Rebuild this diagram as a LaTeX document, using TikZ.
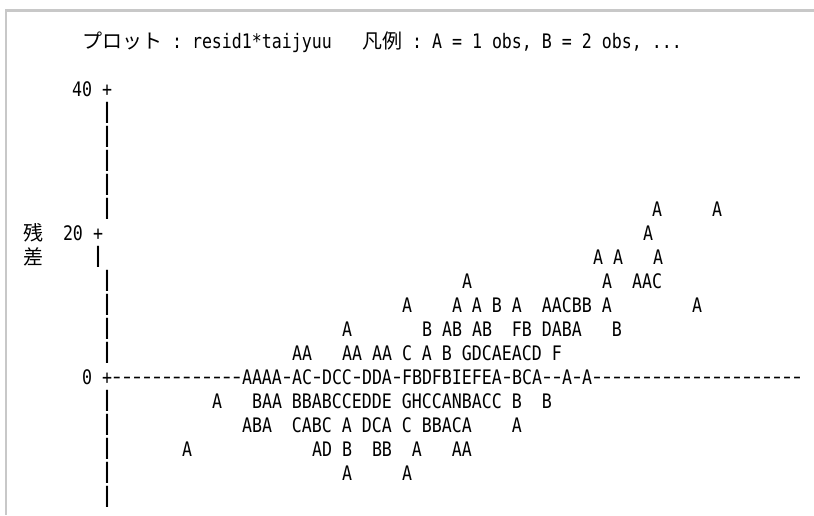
\documentclass[tikz,border=0pt]{standalone}
\usepackage{fontspec}
\usepackage{graphicx}
\newfontfamily\mono[FakeStretch=0.8305]{DejaVu Sans Mono}
\newfontfamily\cjk{Noto Sans CJK JP}
\definecolor{bord}{HTML}{C8C8C8}
\newcount\tkn
\newcommand\g[1]{\kern\dimexpr7.5pt*#1\relax}
\newcommand\hy{\makebox[7.5pt]{\raisebox{0.9pt}{\scalebox{1.4}[1]{-}}}}
\newcommand\vb{\makebox[7.5pt]{\raisebox{1.6pt}{\scalebox{1.5}[1.06]{|}}}}
\tikzset{
  tx/.style={anchor=base west, inner sep=0pt, outer sep=0pt, font={\mono\fontsize{15pt}{15pt}\selectfont}},
  jp/.style={anchor=base west, inner sep=0pt, outer sep=0pt, font={\cjk\fontsize{15pt}{15pt}\selectfont}},
  bordline/.style={draw=bord, line width=1.9pt}
}
\newcommand\tk[4][tx]{\global\advance\tkn by 1\relax
  \node[#1] (tk\the\tkn) at ({#2*10+102},{96.5+24*(#3)}) {#4};}
\begin{document}
\begin{tikzpicture}[x=0.75pt,y=-0.75pt]
\useasboundingbox (0,0) rectangle (814,515);
% frame
\draw[bordline] (6.2,10) -- (6.2,515);
\draw[bordline] (5.25,10.5) -- (814,10.5);
% title
\tk[jp]{-2}{-2}{プロット}
\tk{7}{-2}{:\g{1}resid1*taijyuu}
\tk[jp]{26}{-2}{凡例}
\tk{31}{-2}{:\g{1}A\g{1}=\g{1}1\g{1}obs,\g{1}B\g{1}=\g{1}2\g{1}obs,\g{1}...}
% axis labels
\tk{-3}{0}{40}
\tk{0}{0}{+}
\tk{0}{1}{\vb}
\tk{0}{2}{\vb}
\tk{0}{3}{\vb}
\tk{0}{4}{\vb}
\tk{0}{5}{\vb}
\tk{55}{5}{A}
\tk{61}{5}{A}
\tk[jp]{-7.9}{6}{残}
\tk{-3.9}{6}{20}
\tk{-0.9}{6}{+}
\tk{54.1}{6}{A}
\tk[jp]{-7.9}{7}{差}
\tk{-0.9}{7}{\vb}
\tk{49.1}{7}{A\g{1}A\g{3}A}
\tk{0}{8}{\vb}
\tk{36}{8}{A}
\tk{50}{8}{A\g{2}AAC}
\tk{0}{9}{\vb}
\tk{30}{9}{A\g{4}A\g{1}A\g{1}B\g{1}A\g{2}AACBB\g{1}A\g{8}A}
\tk{0}{10}{\vb}
\tk{24}{10}{A}
\tk{32}{10}{B\g{1}AB\g{1}AB\g{2}FB\g{1}DABA\g{3}B}
\tk{0}{11}{\vb}
\tk{19}{11}{AA}
\tk{24}{11}{AA\g{1}AA\g{1}C\g{1}A\g{1}B\g{1}GDCAEACD\g{1}F}
\tk{-2}{12}{0}
\tk{0}{12}{+\hy\hy\hy\hy\hy\hy\hy\hy\hy\hy\hy\hy\hy AAAA\hy AC\hy DCC\hy DDA\hy FBDFBIEFEA\hy BCA\hy\hy A\hy A\hy\hy\hy\hy\hy\hy\hy\hy\hy\hy\hy\hy\hy\hy\hy\hy\hy\hy\hy\hy\hy}
\tk{0}{13}{\vb}
\tk{11}{13}{A}
\tk{15}{13}{BAA\g{1}BBABCCEDDE\g{1}GHCCANBACC\g{1}B\g{2}B}
\tk{0}{14}{\vb}
\tk{14}{14}{ABA\g{2}CABC\g{1}A\g{1}DCA\g{1}C\g{1}BBACA\g{4}A}
\tk{0}{15}{\vb}
\tk{8}{15}{A}
\tk{21}{15}{AD\g{1}B\g{2}BB\g{2}A\g{3}AA}
\tk{0}{16}{\vb}
\tk{24}{16}{A\g{5}A}
\tk{0}{17}{\vb}
\end{tikzpicture}
\end{document}
